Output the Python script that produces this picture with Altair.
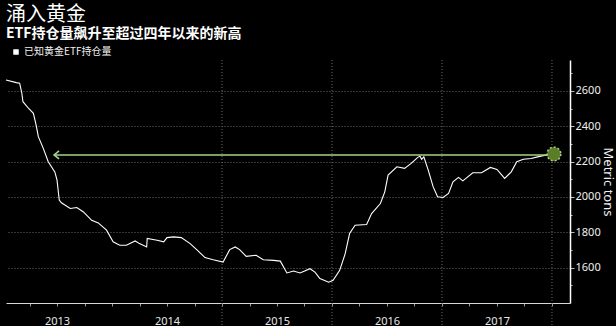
import altair as alt
import pandas as pd

# ---- data (fractional year, metric tons) ----
years = [2013.036, 2013.13, 2013.16, 2013.18, 2013.19, 2013.24, 2013.285, 2013.31, 2013.33,
         2013.375, 2013.42, 2013.48, 2013.50, 2013.52, 2013.54, 2013.62, 2013.68, 2013.74,
         2013.815, 2013.875, 2013.95, 2014.01, 2014.07, 2014.13, 2014.21, 2014.25, 2014.315,
         2014.32, 2014.41, 2014.47, 2014.50, 2014.56, 2014.63, 2014.71, 2014.77, 2014.845,
         2014.92, 2015.01, 2015.07, 2015.12, 2015.16, 2015.22, 2015.31, 2015.375, 2015.47,
         2015.53, 2015.59, 2015.65, 2015.71, 2015.80, 2015.845, 2015.89, 2015.97, 2016.01,
         2016.07, 2016.12, 2016.16, 2016.21, 2016.315, 2016.36, 2016.44, 2016.48, 2016.51,
         2016.59, 2016.66, 2016.72, 2016.78, 2016.80, 2016.815, 2016.835, 2016.875, 2016.92,
         2016.96, 2017.01, 2017.06, 2017.10, 2017.15, 2017.19, 2017.28, 2017.36, 2017.44,
         2017.50, 2017.57, 2017.63, 2017.68, 2017.74, 2017.81, 2017.87, 2017.95, 2017.99,
         2018.018]
tons = [2662, 2647, 2644, 2587, 2539, 2502, 2473, 2407, 2341,
        2275, 2199, 2142, 2095, 1982, 1967, 1935, 1940, 1915,
        1868, 1853, 1812, 1746, 1727, 1727, 1751, 1736, 1717,
        1765, 1755, 1746, 1770, 1774, 1770, 1736, 1702, 1657,
        1645, 1632, 1702, 1717, 1702, 1664, 1670, 1645, 1641,
        1637, 1570, 1581, 1570, 1594, 1575, 1538, 1518, 1528,
        1585, 1679, 1793, 1840, 1844, 1906, 1963, 2029, 2124,
        2171, 2162, 2190, 2224, 2231, 2213, 2227, 2152, 2057,
        2001, 1997, 2020, 2086, 2111, 2091, 2137, 2137, 2167,
        2156, 2105, 2142, 2199, 2213, 2218, 2227, 2237, 2237,
        2243]
series_name = "已知黄金ETF持仓量"

# arrow annotation (start / end year, level)
arrow_start = [2013.473]
arrow_end = [2018.018]
arrow_level = [2238]

# year separators
year_lines = [2015, 2016, 2017, 2018]
# x ticks (quarters) and year labels (mid-year)
quarter_ticks = [2013.25, 2013.5, 2013.75, 2014.0, 2014.25, 2014.5, 2014.75, 2015.0,
                 2015.25, 2015.5, 2015.75, 2016.0, 2016.25, 2016.5, 2016.75, 2017.0,
                 2017.25, 2017.5, 2017.75, 2018.0]
y_ticks = [1500, 1600, 1700, 1800, 1900, 2000, 2100, 2200, 2300, 2400, 2500, 2600, 2700]

W, H = 564, 243
GREEN = "#a8d08a"
GRID = "#6a6a6a"
FONT = "Noto Sans"
CJK = "Noto Sans CJK SC"

df = pd.DataFrame({"t": years, "v": tons, "s": series_name})
arrow_df = pd.DataFrame({"t": arrow_start, "t2": arrow_end, "v": arrow_level})
end_df = df.tail(1)
yl_df = pd.DataFrame({"t": year_lines, "v": [1400] * len(year_lines)})

xs = alt.Scale(domain=[2013.036, 2018.164], nice=False, zero=False)
ys = alt.Scale(domain=[1400, 2775], nice=False, zero=False)

x_axis = alt.Axis(
    values=quarter_ticks,
    labelExpr="datum.value % 1 == 0.5 ? floor(datum.value) : ''",
    grid=False, title=None,
    tickSize=3, tickColor="#9a9a9a", domainColor="#d8d8d8", domainWidth=1,
    labelColor="#e8e8e8", labelFontSize=11, labelFont=FONT, labelPadding=9,
    labelOverlap=False, labelFlush=False, labelBound=False,
)
y_axis = alt.Axis(
    orient="right", values=y_ticks, format="d",
    labelExpr="datum.value % 200 == 0 ? datum.label : ''",
    grid=True, gridColor=GRID, gridDash=[1, 2],
    gridOpacity={"condition": {"test": "datum.value % 200 == 0", "value": 1}, "value": 0},
    tickSize={"condition": {"test": "datum.value % 200 == 0", "value": 4}, "value": 2},
    tickColor="#bbbbbb",
    domainColor="#ffffff", domainWidth=1.5,
    labelColor="#f0f0f0", labelFontSize=11, labelFont=FONT, labelPadding=1,
    labelOverlap=False,
    title="Metric tons", titleColor="#f0f0f0", titleFontSize=13, titleFont=FONT,
    titleFontWeight="normal", titlePadding=0,
)

X = alt.X("t:Q", scale=xs, axis=x_axis)
Y = alt.Y("v:Q", scale=ys, axis=y_axis)

vlines = alt.Chart(yl_df).mark_rule(color=GRID, strokeDash=[1, 2], strokeWidth=1).encode(
    x=X, y=alt.value(0), y2=alt.value(H + 30),
)

line = alt.Chart(df).mark_line(strokeWidth=1.1).encode(
    x=X, y=Y,
    color=alt.Color("s:N", scale=alt.Scale(range=["#ffffff"]),
                    legend=alt.Legend(orient="none", legendX=5, legendY=-13, title=None,
                                      symbolType="square", symbolSize=30,
                                      symbolFillColor="#ffffff", symbolStrokeWidth=0,
                                      labelFont=CJK, labelFontSize=10, labelColor="#f0f0f0",
                                      labelOffset=3, padding=0)),
)

arrow = alt.Chart(arrow_df).mark_rule(color=GREEN, strokeWidth=1.5).encode(
    x=X, x2="t2:Q", y=Y,
)
head = alt.Chart(arrow_df).mark_point(shape="M1,-0.8L0,0L1,0.8", size=100, filled=False,
                                      color=GREEN, strokeWidth=1.6, opacity=1).encode(
    x=X, y=Y,
)
dot = alt.Chart(end_df).mark_point(shape="circle", size=190, filled=True, fill="#5c7d28",
                                   fillOpacity=1, stroke=GREEN, strokeDash=[2, 2],
                                   strokeWidth=1.5, opacity=1).encode(
    x=X, y=Y,
)

chart = alt.layer(vlines, line, arrow, head, dot).properties(
    width=W, height=H,
    autosize=alt.AutoSizeParams(type="none"),
    padding={"left": 6, "top": 60, "right": 46, "bottom": 23},
    title=alt.TitleParams(
        text="涌入黄金", subtitle="ETF持仓量飙升至超过四年以来的新高",
        anchor="start", frame="group", orient="top", offset=6,
        font=CJK, fontSize=20, fontWeight="normal", color="#ffffff",
        subtitleFont=CJK, subtitleFontSize=14, subtitleFontWeight="bold",
        subtitleColor="#ffffff", subtitlePadding=2,
    ),
).configure(background="#000000").configure_view(stroke=None)

chart.save("out.html", embed_options={"renderer": "svg", "actions": False})
